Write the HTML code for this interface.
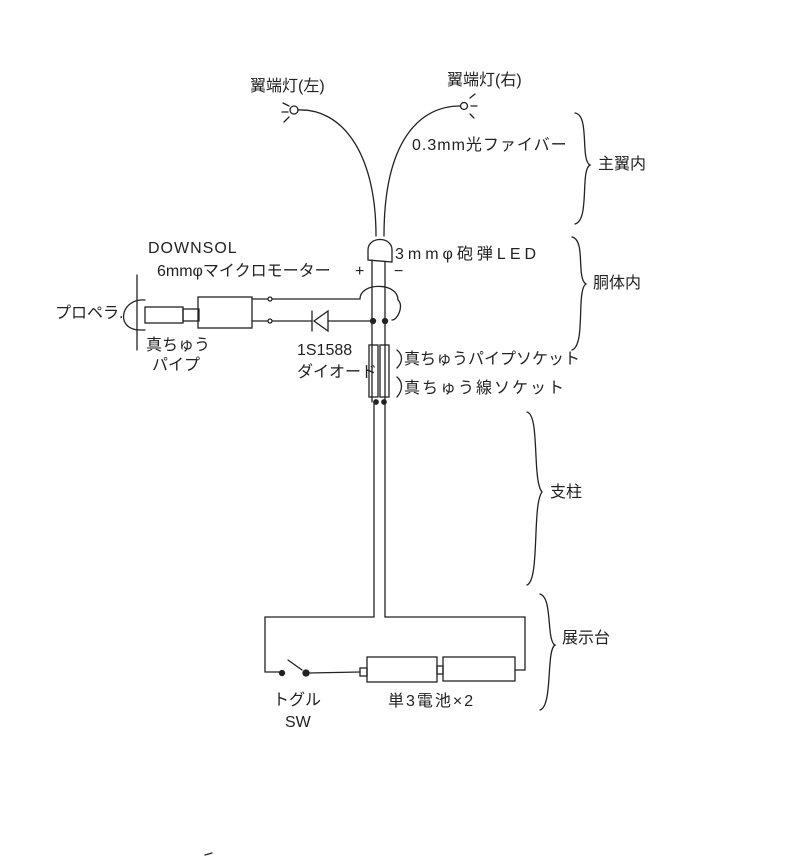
<!DOCTYPE html>
<html><head><meta charset="utf-8"><style>
html,body{margin:0;padding:0;background:#fff}
svg{display:block}
text{font-family:"Liberation Sans","Noto Sans CJK JP",sans-serif;fill:#222;font-size:16px}
</style></head><body>
<svg width="800" height="861" viewBox="0 0 800 861" xmlns="http://www.w3.org/2000/svg">
<g stroke="#222" stroke-width="1.3" fill="none" stroke-linecap="round">
<path d="M298,110 C340,108 376,150 376,236"/>
<path d="M460,106 C420,106 384,140 384,236"/>
<circle cx="294" cy="110" r="4"/>
<circle cx="464" cy="106" r="3.5"/>
<path d="M283,103 l6,3 M282,112 l6,0 M284,122 l5,-5"/>
<path d="M470,98 l5,-4 M471,106 l6,0 M470,114 l4,4"/>
<path d="M368,260 L368,250 C368,236 392,236 392,250 L392,262 Z"/>
<path d="M372,260 L372,402 M385,262 L385,402"/>
<path d="M374,402 L374,617 M385,402 L385,617"/>
<path d="M374,617 L265,617 L265,672 L280,672"/>
<path d="M385,617 L525,617 L525,670 L515,670"/>
<circle cx="282" cy="673" r="2.5" fill="#222"/>
<circle cx="306" cy="673" r="3" fill="#222"/>
<path d="M288,660 L302,670"/>
<path d="M309,673 L360,672"/>
<rect x="360" y="668" width="7" height="8"/>
<rect x="367" y="657" width="70" height="25"/>
<rect x="437" y="666" width="6" height="8"/>
<rect x="443" y="657" width="72" height="24"/>
<path d="M137,275 L137,350"/>
<path d="M145,300 C120,298 115,330 140,330 L145,330"/>
<rect x="145" y="307" width="38" height="16"/>
<rect x="183" y="309" width="16" height="12"/>
<rect x="198" y="297" width="54" height="31"/>
<path d="M252,299 L268,299 M252,321 L268,321"/>
<circle cx="270" cy="299" r="2"/>
<circle cx="270" cy="321" r="2"/>
<path d="M272,299 L360,299 C360,282 398,282 398,300 C404,305 398,320 392,320"/>
<path d="M272,321 L312,321"/>
<path d="M312,311 L312,331 M328,311 L328,331 L314,321 Z"/>
<path d="M328,321 L372,321"/>
<circle cx="373" cy="321" r="2.5" fill="#222"/>
<circle cx="385" cy="321" r="2.5" fill="#222"/>
<rect x="369" y="345" width="9" height="52"/>
<rect x="380" y="345" width="9" height="52"/>
<circle cx="376" cy="402" r="2.2" fill="#222"/>
<circle cx="384" cy="402" r="2.2" fill="#222"/>
<path d="M397,350 C403,355 403,362 397,368 M397,377 C403,382 403,390 397,397"/>
<path d="M575,113 C590,115 580,160 590,165 C580,170 590,220 575,224"/>
<path d="M572,237 C586,240 576,278 586,284 C576,290 586,345 572,350"/>
<path d="M527,412 C540,415 532,480 542,492 C532,505 540,580 527,585"/>
<path d="M540,594 C553,598 546,640 555,645 C546,650 553,706 540,710"/>
<path d="M205,855 L212,853"/>
</g>
<text x="250" y="91">翼端灯(左)</text>
<text x="447" y="85">翼端灯(右)</text>
<text x="412" y="150" letter-spacing="1">0.3mm光ファイバー</text>
<text x="598" y="169" font-size="17">主翼内</text>
<text x="395" y="259" letter-spacing="4">3mmφ砲弾LED</text>
<text x="355" y="276" font-size="14">+</text>
<text x="394" y="276" font-size="14">−</text>
<text x="593" y="288" font-size="17">胴体内</text>
<text x="148" y="253" font-size="15" letter-spacing="1">DOWNSOL</text>
<text x="157" y="276" font-size="13">6mmφマイクロモーター</text>
<text x="55" y="318" font-size="15">プロペラ.</text>
<text x="146" y="350" font-size="14">真ちゅう</text>
<text x="152" y="370" font-size="14">パイプ</text>
<text x="297" y="355" font-size="14">1S1588</text>
<text x="297" y="377" font-size="12">ダイオード</text>
<text x="404" y="364">真ちゅうパイプソケット</text>
<text x="404" y="393" letter-spacing="2">真ちゅう線ソケット</text>
<text x="550" y="497" font-size="18">支柱</text>
<text x="562" y="643" font-size="18">展示台</text>
<text x="273" y="705" font-size="15">トグル</text>
<text x="285" y="727" font-size="17">SW</text>
<text x="388" y="706" letter-spacing="2">単3電池×2</text>
</svg>
</body></html>
